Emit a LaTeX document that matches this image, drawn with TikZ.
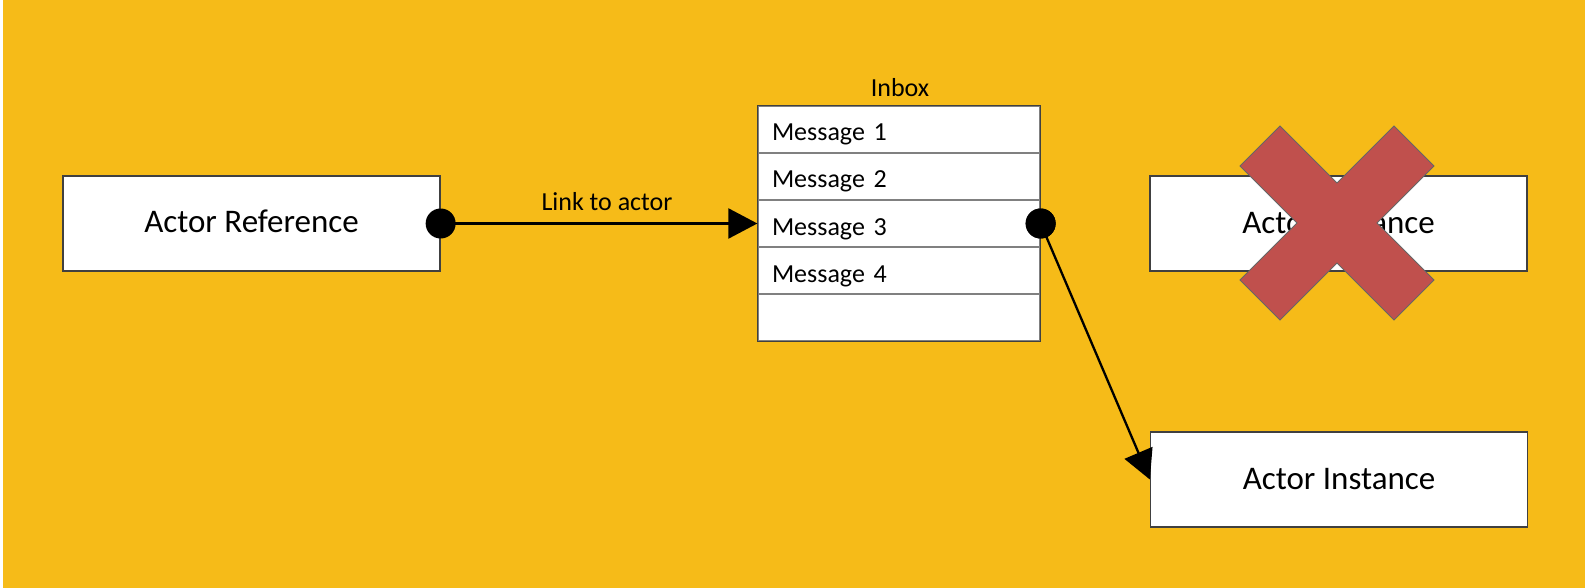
\documentclass[tikz,border=0pt]{standalone}
\usepackage{fontspec}
\setmainfont{Carlito}
\usetikzlibrary{arrows.meta}
\definecolor{bgyellow}{RGB}{246,187,24}
\definecolor{xred}{RGB}{192,80,77}
\begin{document}
\begin{tikzpicture}[x=1pt,y=-1pt,
  box/.style={draw=black!75, line width=1.3pt, fill=white, minimum width=377pt,
    inner sep=0pt, text height=17pt, text depth=0pt, font=\fontsize{33}{39}\selectfont},
  row/.style={draw=black!50, line width=1.3pt, fill=white, minimum width=282pt,
    minimum height=47pt, text width=254pt, align=left, inner xsep=14pt, inner ysep=0pt,
    text height=23pt, text depth=0pt, font=\fontsize{26}{31}\selectfont},
  dot/.style={circle, fill=black, minimum size=30pt, inner sep=0pt},
  conn/.style={line width=2.3pt, -{Triangle[length=29pt,width=30pt]}},
  lbl/.style={inner sep=0pt, font=\fontsize{26}{31}\selectfont},
  cross/.style={fill=xred, draw=black!60, line width=0.8pt, line join=miter}
]
\useasboundingbox (0,0) rectangle (1589,588);
\fill[white] (0,0) rectangle (1589,588);
\fill[bgyellow] (3,0) rectangle (1585,588);

% Actor reference
\node[box, minimum height=95pt] (ref) at (251.5,223.5) {Actor Reference};

% Inbox
\node[row] (m1) at (899,129.5) {Message 1};
\node[row] (m2) at (899,176.5) {Message 2};
\node[row] (m3) at (899,223.5) {Message 3};
\node[row] (m4) at (899,270.5) {Message 4};
\node[row] (m5) at (899,317.5) {};
\draw[black!75, line width=1.3pt] (m1.north west) rectangle (m5.south east);
\node[lbl, anchor=base] (inbox) at (900,97) {Inbox};

% Actor instances
\node[box, minimum height=95pt, text height=19pt] (inst1) at (1338.5,223.5) {Actor Instance};
\node[box, minimum height=95pt, text height=20pt] (inst2) at (1339,479.5) {Actor Instance};

% Cross
\begin{scope}[shift={(1337,223)}]
\filldraw[cross] (0,-40) -- (57,-97) -- (97,-57) -- (40,0) -- (97,57) -- (57,97)
  -- (0,40) -- (-57,97) -- (-97,57) -- (-40,0) -- (-97,-57) -- (-57,-97) -- cycle;
\end{scope}

% Connectors
\node[dot] (d1) at (ref.east) {};
\node[dot] (d2) at (m3.east) {};
\draw[conn] (d1.center) -- (m3.west);
\node[lbl, anchor=base] (link) at (607,211) {Link to actor};
\draw[conn] (d2.center) -- (inst2.west);
\node[dot] at (d2.center) {};
\end{tikzpicture}
\end{document}
